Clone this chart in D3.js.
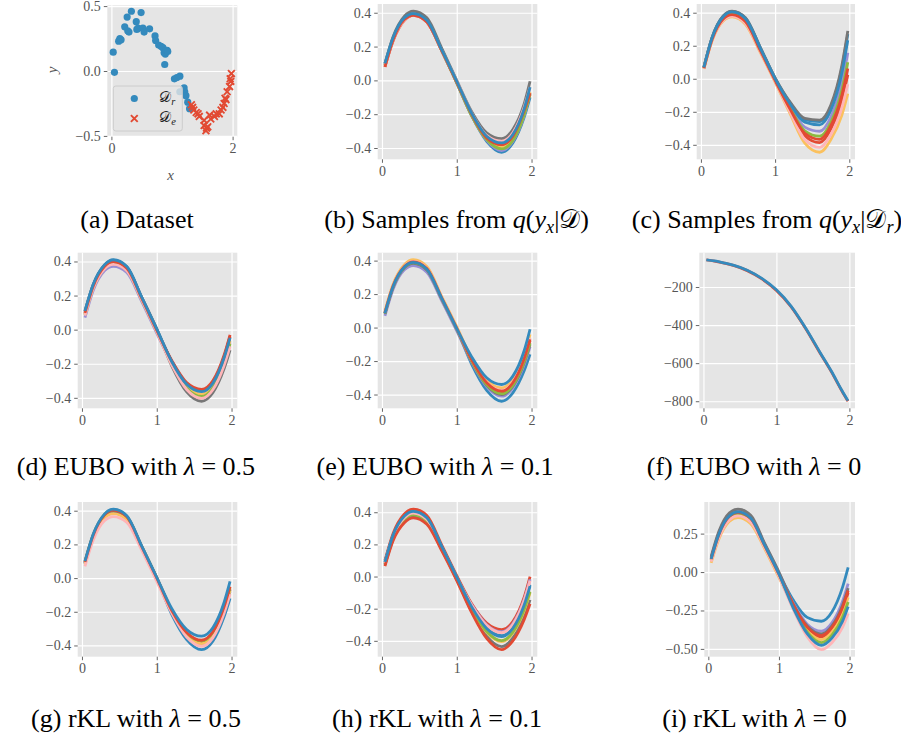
<!DOCTYPE html>
<html>
<head>
<meta charset="utf-8">
<script src="https://cdn.jsdelivr.net/npm/d3@7"></script>
<style>
  body { margin: 0; background: #fff; }
  svg { display: block; }
  text { white-space: pre; }
</style>
</head>
<body>
<div id="chart"></div>
<script>
const X_GRID = [0.04, 0.15, 0.3, 0.42, 0.6, 0.8, 1.0, 1.2, 1.4, 1.6, 1.75, 1.9, 1.98];

// ggplot colour cycle
const PALETTE = ['#E24A33', '#348ABD', '#988ED5', '#777777', '#FBC15E', '#8EBA42', '#FFB5B8'];

// (a) dataset: retained points D_r and erased points D_e
const DR_X = [0.03, 0.05, 0.12, 0.14, 0.16, 0.22, 0.26, 0.27, 0.29, 0.33, 0.41, 0.42, 0.44, 0.49, 0.52, 0.54, 0.63, 0.72, 0.73,
  0.78, 0.82, 0.85, 0.87, 0.88, 0.89, 0.90, 0.92, 0.93, 1.04, 1.08, 1.13, 1.13, 1.20, 1.21, 1.23, 1.26, 1.29];
const DR_Y = [0.145, -0.01, 0.23, 0.25, 0.24, 0.34, 0.415, 0.31, 0.30, 0.46, 0.38, 0.32, 0.33, 0.45, 0.33, 0.30, 0.325, 0.27, 0.235,
  0.20, 0.19, 0.18, 0.14, 0.05, 0.13, 0.16, 0.16, 0.15, -0.06, -0.05, -0.04, -0.16, -0.13, -0.16, -0.19, -0.24, -0.29];
const DE_X = [1.32, 1.34, 1.36, 1.40, 1.43, 1.45, 1.53, 1.53, 1.56, 1.57, 1.59, 1.62, 1.64, 1.70, 1.73, 1.78, 1.81, 1.84, 1.86,
  1.875, 1.89, 1.91, 1.95, 1.96, 1.97, 1.98];
const DE_Y = [-0.26, -0.28, -0.30, -0.32, -0.33, -0.35, -0.38, -0.42, -0.46, -0.44, -0.43, -0.34, -0.37, -0.35, -0.33, -0.33, -0.30,
  -0.28, -0.25, -0.21, -0.22, -0.16, -0.12, -0.06, -0.08, -0.02];

// (b) samples from q(y_x | D)
const CURVES_B = [
  [0.08, 0.235, 0.355, 0.385, 0.345, 0.175, -0.01, -0.2, -0.34, -0.385, -0.335, -0.19, -0.085],
  [0.095, 0.25, 0.365, 0.395, 0.355, 0.18, -0.015, -0.21, -0.36, -0.425, -0.37, -0.22, -0.1],
  [0.09, 0.245, 0.36, 0.39, 0.35, 0.175, -0.015, -0.21, -0.355, -0.415, -0.36, -0.21, -0.075],
  [0.1, 0.26, 0.38, 0.41, 0.37, 0.19, 0.0, -0.185, -0.31, -0.345, -0.29, -0.14, -0.005],
  [0.09, 0.245, 0.36, 0.39, 0.35, 0.175, -0.01, -0.205, -0.345, -0.395, -0.345, -0.2, -0.07],
  [0.09, 0.245, 0.36, 0.39, 0.35, 0.175, -0.015, -0.21, -0.35, -0.405, -0.355, -0.205, -0.08],
  [0.085, 0.24, 0.355, 0.385, 0.345, 0.175, -0.005, -0.195, -0.325, -0.36, -0.31, -0.16, -0.04],
  [0.08, 0.24, 0.36, 0.385, 0.345, 0.175, -0.01, -0.2, -0.34, -0.38, -0.33, -0.18, -0.075],
  [0.1, 0.255, 0.37, 0.395, 0.355, 0.18, -0.005, -0.195, -0.33, -0.37, -0.32, -0.17, -0.04]
];

// (c) samples from q(y_x | D_r)
const CURVES_C = [
  [0.063, 0.236, 0.359, 0.386, 0.342, 0.169, -0.013, -0.189, -0.345, -0.387, -0.307, -0.13, 0.024],
  [0.07, 0.249, 0.379, 0.408, 0.368, 0.189, 0.004, -0.144, -0.248, -0.26, -0.171, 0.065, 0.271],
  [0.066, 0.243, 0.37, 0.398, 0.356, 0.18, -0.004, -0.165, -0.293, -0.318, -0.234, -0.025, 0.157],
  [0.07, 0.25, 0.38, 0.41, 0.37, 0.19, 0.005, -0.14, -0.24, -0.25, -0.16, 0.08, 0.29],
  [0.06, 0.23, 0.35, 0.375, 0.33, 0.16, -0.02, -0.21, -0.39, -0.445, -0.37, -0.22, -0.09],
  [0.065, 0.24, 0.365, 0.393, 0.35, 0.175, -0.008, -0.175, -0.315, -0.348, -0.265, -0.07, 0.1],
  [0.062, 0.233, 0.355, 0.38, 0.336, 0.165, -0.016, -0.2, -0.368, -0.416, -0.339, -0.175, -0.033],
  [0.064, 0.238, 0.362, 0.389, 0.346, 0.172, -0.01, -0.182, -0.33, -0.367, -0.286, -0.1, 0.062],
  [0.069, 0.247, 0.376, 0.405, 0.364, 0.186, 0.001, -0.151, -0.263, -0.279, -0.192, 0.035, 0.233]
];

// (d) EUBO, lambda = 0.5
const CURVES_D = [
  [0.094, 0.251, 0.366, 0.395, 0.356, 0.18, -0.005, -0.18, -0.31, -0.35, -0.3, -0.15, -0.03],
  [0.106, 0.262, 0.377, 0.406, 0.367, 0.188, 0.003, -0.185, -0.318, -0.361, -0.311, -0.162, -0.044],
  [0.07, 0.23, 0.345, 0.372, 0.335, 0.165, -0.02, -0.198, -0.338, -0.385, -0.335, -0.19, -0.075],
  [0.108, 0.263, 0.378, 0.408, 0.368, 0.189, 0.004, -0.212, -0.365, -0.42, -0.37, -0.23, -0.12],
  [0.09, 0.248, 0.363, 0.391, 0.353, 0.178, -0.008, -0.194, -0.332, -0.378, -0.328, -0.182, -0.066],
  [0.086, 0.244, 0.359, 0.387, 0.349, 0.175, -0.01, -0.201, -0.343, -0.392, -0.342, -0.198, -0.084],
  [0.082, 0.241, 0.356, 0.383, 0.346, 0.173, -0.013, -0.206, -0.351, -0.403, -0.353, -0.21, -0.098],
  [0.098, 0.255, 0.37, 0.399, 0.36, 0.183, -0.003, -0.184, -0.316, -0.357, -0.307, -0.158, -0.039],
  [0.11, 0.265, 0.38, 0.41, 0.37, 0.19, 0.005, -0.187, -0.321, -0.364, -0.314, -0.166, -0.048]
];

// (e) EUBO, lambda = 0.1
const CURVES_E = [
  [0.088, 0.248, 0.363, 0.391, 0.351, 0.175, -0.005, -0.195, -0.334, -0.385, -0.335, -0.194, -0.078],
  [0.085, 0.245, 0.36, 0.388, 0.348, 0.173, -0.008, -0.22, -0.375, -0.44, -0.39, -0.26, -0.16],
  [0.07, 0.23, 0.345, 0.37, 0.33, 0.16, -0.02, -0.207, -0.353, -0.41, -0.36, -0.224, -0.115],
  [0.082, 0.242, 0.357, 0.384, 0.344, 0.17, -0.01, -0.202, -0.345, -0.4, -0.35, -0.212, -0.1],
  [0.1, 0.26, 0.375, 0.405, 0.365, 0.185, 0.005, -0.184, -0.315, -0.36, -0.31, -0.164, -0.04],
  [0.085, 0.245, 0.36, 0.388, 0.348, 0.173, -0.008, -0.2, -0.341, -0.395, -0.345, -0.206, -0.093],
  [0.091, 0.251, 0.366, 0.395, 0.355, 0.178, -0.003, -0.191, -0.326, -0.375, -0.325, -0.182, -0.063],
  [0.09, 0.25, 0.365, 0.393, 0.353, 0.176, -0.004, -0.193, -0.33, -0.38, -0.33, -0.188, -0.07],
  [0.087, 0.247, 0.362, 0.389, 0.349, 0.174, -0.006, -0.175, -0.3, -0.34, -0.29, -0.14, -0.01]
];

// (f) EUBO, lambda = 0 (diverges)
const CURVES_F = [
  [-58, -64, -76, -88, -114, -157, -218, -303, -418, -548, -643, -748, -800],
  [-57, -63, -75, -86, -112, -155, -215, -300, -415, -545, -640, -745, -797]
];

// (g) rKL, lambda = 0.5
const CURVES_G = [
  [0.094, 0.253, 0.372, 0.401, 0.362, 0.185, 0.0, -0.196, -0.332, -0.381, -0.331, -0.183, -0.065],
  [0.091, 0.25, 0.368, 0.397, 0.358, 0.183, -0.003, -0.215, -0.365, -0.425, -0.375, -0.23, -0.12],
  [0.085, 0.243, 0.36, 0.388, 0.35, 0.178, -0.008, -0.201, -0.341, -0.393, -0.343, -0.196, -0.08],
  [0.088, 0.246, 0.364, 0.392, 0.354, 0.18, -0.005, -0.198, -0.335, -0.385, -0.335, -0.188, -0.07],
  [0.082, 0.239, 0.356, 0.383, 0.346, 0.175, -0.01, -0.199, -0.338, -0.389, -0.339, -0.192, -0.075],
  [0.097, 0.257, 0.376, 0.406, 0.366, 0.188, 0.003, -0.192, -0.326, -0.373, -0.323, -0.175, -0.055],
  [0.07, 0.225, 0.34, 0.365, 0.33, 0.165, -0.02, -0.206, -0.35, -0.405, -0.355, -0.209, -0.095],
  [0.096, 0.255, 0.374, 0.403, 0.364, 0.186, 0.001, -0.191, -0.323, -0.369, -0.319, -0.171, -0.05],
  [0.1, 0.26, 0.38, 0.41, 0.37, 0.19, 0.005, -0.18, -0.305, -0.345, -0.295, -0.145, -0.02]
];

// (h) rKL, lambda = 0.1
const CURVES_H = [
  [0.1, 0.27, 0.39, 0.42, 0.38, 0.195, 0.005, -0.17, -0.29, -0.33, -0.28, -0.13, 0.0],
  [0.09, 0.257, 0.374, 0.404, 0.364, 0.185, -0.004, -0.187, -0.319, -0.368, -0.316, -0.172, -0.051],
  [0.079, 0.243, 0.357, 0.387, 0.347, 0.174, -0.013, -0.176, -0.3, -0.343, -0.292, -0.144, -0.017],
  [0.072, 0.234, 0.346, 0.376, 0.336, 0.167, -0.019, -0.217, -0.371, -0.436, -0.382, -0.249, -0.145],
  [0.083, 0.248, 0.363, 0.393, 0.353, 0.178, -0.01, -0.203, -0.347, -0.405, -0.352, -0.214, -0.102],
  [0.077, 0.241, 0.354, 0.384, 0.344, 0.172, -0.015, -0.2, -0.342, -0.399, -0.346, -0.207, -0.094],
  [0.084, 0.25, 0.365, 0.395, 0.355, 0.179, -0.009, -0.178, -0.304, -0.349, -0.298, -0.151, -0.026],
  [0.065, 0.225, 0.335, 0.365, 0.325, 0.16, -0.025, -0.225, -0.385, -0.455, -0.4, -0.27, -0.17],
  [0.091, 0.259, 0.376, 0.406, 0.366, 0.186, -0.003, -0.189, -0.323, -0.374, -0.322, -0.179, -0.06]
];

// (i) rKL, lambda = 0
const CURVES_I = [
  [0.08, 0.24, 0.358, 0.383, 0.343, 0.168, -0.018, -0.213, -0.364, -0.422, -0.37, -0.243, -0.135],
  [0.092, 0.255, 0.374, 0.399, 0.359, 0.178, -0.007, -0.18, -0.295, -0.32, -0.26, -0.1, 0.03],
  [0.088, 0.25, 0.369, 0.394, 0.354, 0.175, -0.011, -0.201, -0.339, -0.385, -0.33, -0.191, -0.075],
  [0.1, 0.265, 0.385, 0.41, 0.37, 0.185, 0.0, -0.207, -0.351, -0.403, -0.35, -0.217, -0.105],
  [0.06, 0.215, 0.33, 0.355, 0.315, 0.15, -0.035, -0.219, -0.376, -0.44, -0.39, -0.269, -0.165],
  [0.076, 0.235, 0.352, 0.377, 0.337, 0.164, -0.021, -0.225, -0.389, -0.459, -0.41, -0.295, -0.195],
  [0.068, 0.225, 0.341, 0.366, 0.326, 0.157, -0.028, -0.24, -0.42, -0.505, -0.46, -0.36, -0.27],
  [0.084, 0.245, 0.363, 0.388, 0.348, 0.171, -0.014, -0.21, -0.358, -0.413, -0.36, -0.23, -0.12],
  [0.086, 0.248, 0.366, 0.391, 0.351, 0.173, -0.012, -0.231, -0.401, -0.477, -0.43, -0.321, -0.225]
];

// tick values
const X_TICKS = [0, 1, 2];
const Y_TICKS_STD = [-0.4, -0.2, 0, 0.2, 0.4];
const Y_TICKS_F = [-800, -600, -400, -200];
const Y_TICKS_I = [-0.5, -0.25, 0, 0.25];
const A_X_TICKS = [0, 2];
const A_Y_TICKS = [-0.5, 0, 0.5];

// captions, as [text, style] runs
const CAL_D = '\u{1D49F}';
const CAPTIONS = {
  a: [['(a) Dataset']],
  b: [['(b) Samples from '], ['q', 'i'], ['('], ['y', 'i'], ['x', 'sub'], ['|'], [CAL_D, 'cal'], [')']],
  c: [['(c) Samples from '], ['q', 'i'], ['('], ['y', 'i'], ['x', 'sub'], ['|'], [CAL_D, 'cal'], ['r', 'sub'], [')']],
  d: [['(d) EUBO with '], ['\u03bb', 'i'], [' = 0.5']],
  e: [['(e) EUBO with '], ['\u03bb', 'i'], [' = 0.1']],
  f: [['(f) EUBO with '], ['\u03bb', 'i'], [' = 0']],
  g: [['(g) rKL with '], ['\u03bb', 'i'], [' = 0.5']],
  h: [['(h) rKL with '], ['\u03bb', 'i'], [' = 0.1']],
  i: [['(i) rKL with '], ['\u03bb', 'i'], [' = 0']]
};

// panel geometry (pixels)
const LAYOUT = {
  a: { left: 107.3, top: 5.3, width: 130, height: 131.4, cx: 137, cy: 227.7 },
  b: { left: 377.7, top: 4, width: 159.6, height: 155.3, cx: 456.7, cy: 227.7 },
  c: { left: 696.7, top: 4, width: 158.3, height: 155.3, cx: 767, cy: 227.7 },
  d: { left: 77.7, top: 252.7, width: 159.6, height: 155.6, cx: 136, cy: 475.3 },
  e: { left: 377.7, top: 252.7, width: 159.6, height: 155.6, cx: 435, cy: 475.3 },
  f: { left: 699.3, top: 252.7, width: 155.7, height: 155.6, cx: 754, cy: 475.3 },
  g: { left: 77.7, top: 502, width: 159.6, height: 154.7, cx: 136, cy: 726.5 },
  h: { left: 377.7, top: 502, width: 159.6, height: 154.7, cx: 437, cy: 726.5 },
  i: { left: 704.3, top: 502, width: 150.7, height: 154.7, cx: 754.5, cy: 726.5 }
};

const SERIF = "'Liberation Serif', 'Times New Roman', serif";
const CAL_FONT = "'DejaVu Serif', 'DejaVu Sans', 'Noto Sans', serif";
const TICK_SIZE = 14;
const CAPTION_SIZE = 26;

const svg = d3.select('#chart').append('svg')
  .attr('width', 901)
  .attr('height', 734)
  .attr('font-family', SERIF);

// matplotlib-style 5% margin around the data
function padded(ext) {
  const p = (ext[1] - ext[0]) * 0.05;
  return [ext[0] - p, ext[1] + p];
}

function richText(sel, parts, size) {
  let shift = 0;
  parts.forEach(([s, kind]) => {
    const sp = sel.append('tspan').text(s);
    const want = kind === 'sub' ? size * 0.22 : 0;
    if (want !== shift) {
      sp.attr('dy', want - shift);
      shift = want;
    }
    if (kind === 'i' || kind === 'sub') sp.attr('font-style', 'italic');
    if (kind === 'sub') sp.attr('font-size', size * 0.7);
    if (kind === 'cal') sp.attr('font-family', CAL_FONT);
  });
}

function makePanel(key, xDomain, yDomain, xTicks, yTicks, yFmt) {
  const box = LAYOUT[key];
  const g = svg.append('g').attr('transform', `translate(${box.left},${box.top})`);
  const x = d3.scaleLinear().domain(xDomain).range([0, box.width]);
  const y = d3.scaleLinear().domain(yDomain).range([box.height, 0]);

  g.append('rect').attr('width', box.width).attr('height', box.height).attr('fill', '#E5E5E5');

  // white grid
  g.append('g')
    .call(d3.axisLeft(y).tickValues(yTicks).tickSize(-box.width).tickFormat(''))
    .call((a) => a.select('.domain').remove())
    .selectAll('line').attr('stroke', '#fff').attr('stroke-width', 1.2);
  g.append('g')
    .attr('transform', `translate(0,${box.height})`)
    .call(d3.axisBottom(x).tickValues(xTicks).tickSize(-box.height).tickFormat(''))
    .call((a) => a.select('.domain').remove())
    .selectAll('line').attr('stroke', '#fff').attr('stroke-width', 1.2);

  // ticks and labels
  const yAxis = g.append('g')
    .call(d3.axisLeft(y).tickValues(yTicks).tickSize(3.5).tickPadding(3).tickFormat(d3.format(yFmt)));
  const xAxis = g.append('g')
    .attr('transform', `translate(0,${box.height})`)
    .call(d3.axisBottom(x).tickValues(xTicks).tickSize(3.5).tickPadding(3).tickFormat(d3.format('d')));
  [yAxis, xAxis].forEach((a) => {
    a.attr('font-family', SERIF).attr('font-size', TICK_SIZE);
    a.select('.domain').remove();
    a.selectAll('line').attr('stroke', '#555').attr('stroke-width', 0.9);
    a.selectAll('text').attr('fill', '#555');
  });

  const cap = svg.append('text')
    .attr('x', box.cx)
    .attr('y', box.cy)
    .attr('text-anchor', 'middle')
    .attr('font-size', CAPTION_SIZE)
    .attr('fill', '#000');
  richText(cap, CAPTIONS[key], CAPTION_SIZE);

  const clipId = 'clip-' + key;
  g.append('clipPath').attr('id', clipId)
    .append('rect').attr('width', box.width).attr('height', box.height);
  const plot = g.append('g').attr('clip-path', `url(#${clipId})`);

  return { g, plot, x, y, box };
}

function drawCurves(key, curves, yTicks, yFmt) {
  const xDomain = padded(d3.extent(X_GRID));
  const yDomain = padded(d3.extent(curves.flat()));
  const p = makePanel(key, xDomain, yDomain, X_TICKS, yTicks, yFmt);
  const line = d3.line()
    .x((d, i) => p.x(X_GRID[i]))
    .y((d) => p.y(d))
    .curve(d3.curveMonotoneX);
  p.plot.selectAll('path.sample')
    .data(curves)
    .join('path')
    .attr('class', 'sample')
    .attr('d', line)
    .attr('fill', 'none')
    .attr('stroke', (d, i) => PALETTE[i % PALETTE.length])
    .attr('stroke-width', 2.8);
}

// (a) dataset scatter
(function drawDataset() {
  const xDomain = padded(d3.extent(DR_X.concat(DE_X)));
  const yDomain = padded(d3.extent(DR_Y.concat(DE_Y)));
  const p = makePanel('a', xDomain, yDomain, A_X_TICKS, A_Y_TICKS, '.1f');
  const cross = 'M-3.4,-3.4L3.4,3.4M-3.4,3.4L3.4,-3.4';

  p.plot.selectAll('circle.dr')
    .data(DR_X)
    .join('circle')
    .attr('class', 'dr')
    .attr('cx', (d) => p.x(d))
    .attr('cy', (d, i) => p.y(DR_Y[i]))
    .attr('r', 3.6)
    .attr('fill', PALETTE[1]);

  p.plot.selectAll('path.de')
    .data(DE_X)
    .join('path')
    .attr('class', 'de')
    .attr('d', cross)
    .attr('transform', (d, i) => `translate(${p.x(d)},${p.y(DE_Y[i])})`)
    .attr('stroke', PALETTE[0])
    .attr('stroke-width', 1.9)
    .attr('fill', 'none');

  // legend
  const lg = p.g.append('g').attr('transform', 'translate(6,80.7)');
  lg.append('rect')
    .attr('width', 69).attr('height', 45).attr('rx', 2.5)
    .attr('fill', '#E5E5E5').attr('fill-opacity', 0.8)
    .attr('stroke', '#cccccc').attr('stroke-width', 1);
  lg.append('circle').attr('cx', 21).attr('cy', 12.5).attr('r', 3.6).attr('fill', PALETTE[1]);
  lg.append('path').attr('d', cross).attr('transform', 'translate(21,32.5)')
    .attr('stroke', PALETTE[0]).attr('stroke-width', 1.9).attr('fill', 'none');
  const l1 = lg.append('text').attr('x', 46).attr('y', 16).attr('font-size', 15).attr('fill', '#222');
  richText(l1, [[CAL_D, 'cal'], ['r', 'sub']], 15);
  const l2 = lg.append('text').attr('x', 46).attr('y', 36).attr('font-size', 15).attr('fill', '#222');
  richText(l2, [[CAL_D, 'cal'], ['e', 'sub']], 15);

  // axis labels
  svg.append('text').attr('x', 170.7).attr('y', 180).attr('text-anchor', 'middle')
    .attr('font-size', 15).attr('font-style', 'italic').attr('fill', '#555').text('x');
  svg.append('text').attr('transform', 'translate(57,70) rotate(-90)').attr('text-anchor', 'middle')
    .attr('font-size', 15).attr('font-style', 'italic').attr('fill', '#555').text('y');
})();

drawCurves('b', CURVES_B, Y_TICKS_STD, '.1f');
drawCurves('c', CURVES_C, Y_TICKS_STD, '.1f');
drawCurves('d', CURVES_D, Y_TICKS_STD, '.1f');
drawCurves('e', CURVES_E, Y_TICKS_STD, '.1f');
drawCurves('f', CURVES_F, Y_TICKS_F, 'd');
drawCurves('g', CURVES_G, Y_TICKS_STD, '.1f');
drawCurves('h', CURVES_H, Y_TICKS_STD, '.1f');
drawCurves('i', CURVES_I, Y_TICKS_I, '.2f');
</script>
</body>
</html>
